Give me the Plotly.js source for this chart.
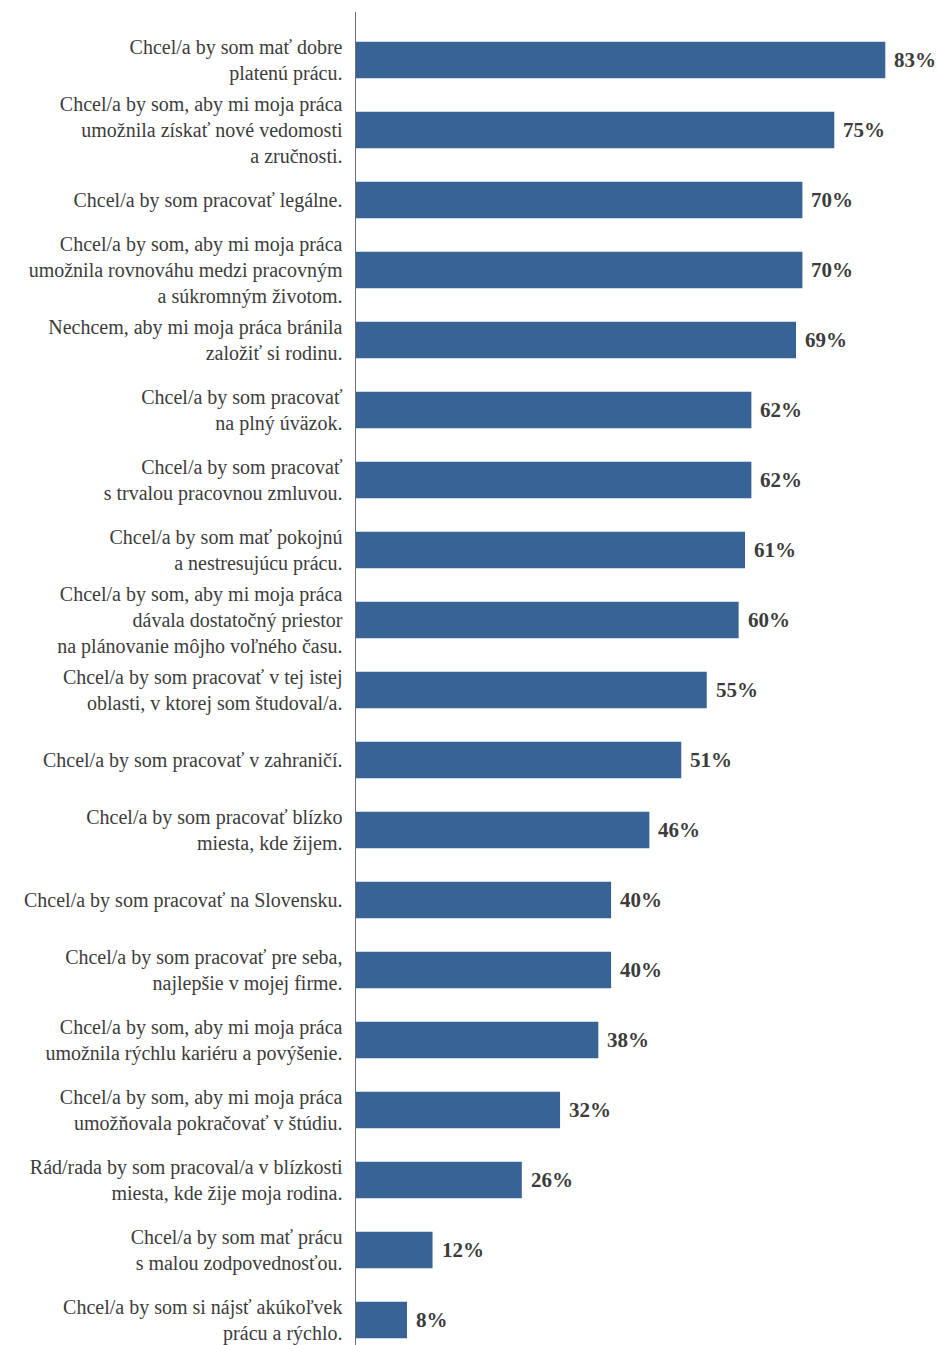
<!DOCTYPE html>
<html>
<head>
<meta charset="utf-8">
<script src="https://cdn.plot.ly/plotly-3.0.1.min.js"></script>
<style>html,body{margin:0;padding:0;background:#fff;}#chart{width:939px;height:1345px;}</style>
</head>
<body>
<div id="chart"></div>
<script>
const categories = [
  "Chcel/a by som mať dobre<br>platenú prácu.",
  "Chcel/a by som, aby mi moja práca<br>umožnila získať nové vedomosti<br>a zručnosti.",
  "Chcel/a by som pracovať legálne.",
  "Chcel/a by som, aby mi moja práca<br>umožnila rovnováhu medzi pracovným<br>a súkromným životom.",
  "Nechcem, aby mi moja práca bránila<br>založiť si rodinu.",
  "Chcel/a by som pracovať<br>na plný úväzok.",
  "Chcel/a by som pracovať<br>s trvalou pracovnou zmluvou.",
  "Chcel/a by som mať pokojnú<br>a nestresujúcu prácu.",
  "Chcel/a by som, aby mi moja práca<br>dávala dostatočný priestor<br>na plánovanie môjho voľného času.",
  "Chcel/a by som pracovať v tej istej<br>oblasti, v ktorej som študoval/a.",
  "Chcel/a by som pracovať v zahraničí.",
  "Chcel/a by som pracovať blízko<br>miesta, kde žijem.",
  "Chcel/a by som pracovať na Slovensku.",
  "Chcel/a by som pracovať pre seba,<br>najlepšie v mojej firme.",
  "Chcel/a by som, aby mi moja práca<br>umožnila rýchlu kariéru a povýšenie.",
  "Chcel/a by som, aby mi moja práca<br>umožňovala pokračovať v štúdiu.",
  "Rád/rada by som pracoval/a v blízkosti<br>miesta, kde žije moja rodina.",
  "Chcel/a by som mať prácu<br>s malou zodpovednosťou.",
  "Chcel/a by som si nájsť akúkoľvek<br>prácu a rýchlo."
];
const values = [83, 75, 70, 70, 69, 62, 62, 61, 60, 55, 51, 46, 40, 40, 38, 32, 26, 12, 8];
const valueLabels = values.map(v => v + "%");

const FONT = "'Liberation Serif', 'DejaVu Serif', serif";
const TEXT = "#3c3c3c";

const trace = {
  type: "bar",
  orientation: "h",
  x: values,
  y: categories,
  marker: { color: "#386395" },
  hoverinfo: "none"
};

const annotations = values.map((v, i) => ({
  x: v, y: categories[i], xref: "x", yref: "y",
  text: "<b>" + valueLabels[i] + "</b>",
  showarrow: false, xanchor: "left", yanchor: "middle", xshift: 7,
  font: { family: FONT, size: 21, color: TEXT }
}));

const layout = {
  width: 939, height: 1345,
  margin: { l: 356, r: 0, t: 12, b: 0 },
  paper_bgcolor: "#fff", plot_bgcolor: "#fff",
  showlegend: false,
  bargap: 0.48,
  font: { family: FONT, size: 20, color: TEXT },
  xaxis: { range: [0, 91.42], visible: false, fixedrange: true },
  yaxis: {
    type: "category",
    range: [18.357, -0.686],
    showline: true, linecolor: "#707070", linewidth: 1.5,
    showgrid: false, zeroline: false, ticks: "",
    ticklabelstandoff: 8,
    tickfont: { family: FONT, size: 20, color: TEXT }
  },
  annotations: annotations
};

Plotly.newPlot("chart", [trace], layout, { displayModeBar: false, staticPlot: true });
</script>
</body>
</html>
